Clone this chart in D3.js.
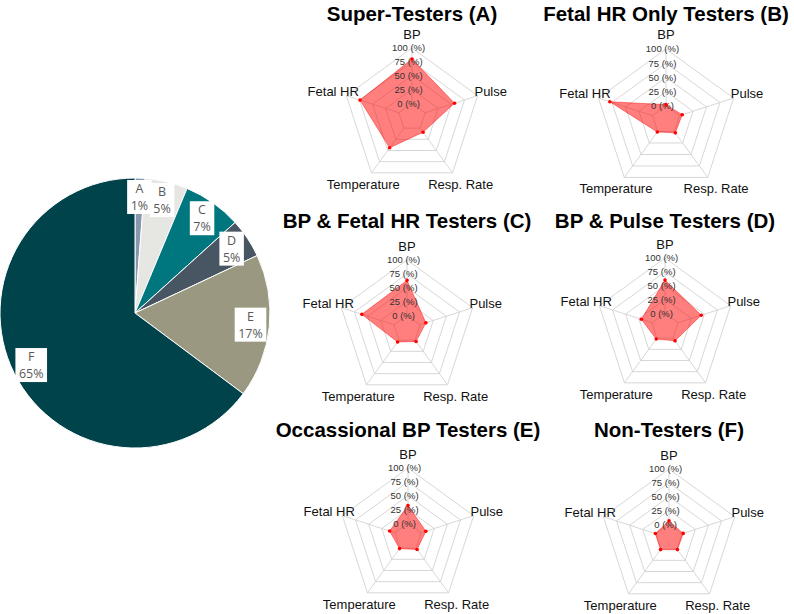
<!DOCTYPE html>
<html>
<head>
<meta charset="utf-8">
<script src="https://cdn.jsdelivr.net/npm/d3@7/dist/d3.min.js"></script>
<style>
  html, body { margin: 0; padding: 0; background: #fff; }
  svg { display: block; }
</style>
</head>
<body>
<svg id="chart" width="794" height="614"></svg>
<script>
// ---------------- DATA ----------------
const pieGroups = ["A", "B", "C", "D", "E", "F"];
const pieShares = [1.2, 5.1, 7.0, 4.7, 17.2, 64.8];
const pieColors = ["#8797AE", "#E6E6E2", "#00777F", "#485563", "#9A9880", "#00434B"];

const radarAxes = ["BP", "Fetal HR", "Temperature", "Resp. Rate", "Pulse"];
const radarTicks = [0, 25, 50, 75, 100];
const radarTickLabels = ["0 (%)", "25 (%)", "50 (%)", "75 (%)", "100 (%)"];
const radarTitles = [
  "Super-Testers (A)", "Fetal HR Only Testers (B)",
  "BP & Fetal HR Testers (C)", "BP & Pulse Testers (D)",
  "Occassional BP Testers (E)", "Non-Testers (F)"
];
// values in % in the order of radarAxes
const valuesA = [80, 74, 44, 9, 56];
const valuesB = [2, 79, 1, 3, 5];
const valuesC = [63, 61, 4, 3, 11];
const valuesD = [60, 20, 2, 6, 44];
const valuesE = [32, 10, 1, 3, 9];
const valuesF = [6, 1, 1, 1, 2];
const radarValues = [valuesA, valuesB, valuesC, valuesD, valuesE, valuesF];

// ---------------- LAYOUT ----------------
const svg = d3.select("#chart");

// Pie
const pieCx = 135, pieCy = 313, pieR = 135;
const pieG = svg.append("g").attr("transform", `translate(${pieCx},${pieCy})`);
const pie = d3.pie().sort(null).value(d => d)(pieShares);
const arc = d3.arc().innerRadius(0).outerRadius(pieR);
const labelArc = d3.arc().innerRadius(pieR * 0.86).outerRadius(pieR * 0.86);

pieG.selectAll("path.slice").data(pie).join("path")
  .attr("class", "slice")
  .attr("d", arc)
  .attr("fill", (d, i) => pieColors[i])
  .attr("stroke", "#ffffff")
  .attr("stroke-width", 1);

const lab = pieG.selectAll("g.lab").data(pie).join("g")
  .attr("class", "lab")
  .attr("transform", d => `translate(${labelArc.centroid(d)})`);
lab.append("rect").attr("fill", "#ffffff");
lab.append("text")
  .attr("text-anchor", "middle").attr("y", -8.5).attr("dy", "0.35em")
  .attr("font-family", "'Open Sans', sans-serif").attr("font-size", 12.5)
  .attr("fill", "#595959")
  .text((d, i) => pieGroups[i]);
lab.append("text")
  .attr("text-anchor", "middle").attr("y", 8.5).attr("dy", "0.35em")
  .attr("font-family", "'Open Sans', sans-serif").attr("font-size", 12.5)
  .attr("fill", "#595959")
  .text(d => Math.round(d.value) + "%");
lab.each(function () {
  const g = d3.select(this);
  const w = Math.max(...g.selectAll("text").nodes().map(n => n.getComputedTextLength())) + 7;
  g.select("rect").attr("x", -w / 2).attr("y", -17).attr("width", w).attr("height", 34);
});

// Radar panels
const panels = [
  { cx: 412, cy: 117, R: 69, ty: 20.5 },
  { cx: 666, cy: 120, R: 71, ty: 20.5 },
  { cx: 407, cy: 329, R: 69, ty: 228 },
  { cx: 665, cy: 327, R: 69, ty: 228 },
  { cx: 408, cy: 537, R: 69, ty: 437 },
  { cx: 669, cy: 538, R: 69, ty: 437 }
];

const n = radarAxes.length;
const angle = i => (90 + 360 / n * i) * Math.PI / 180; // counter-clockwise from top

panels.forEach((p, k) => {
  const g = svg.append("g").attr("transform", `translate(${p.cx},${p.cy})`);
  const r = d3.scaleLinear().domain([0, 100]).range([p.R * 0.2, p.R]);
  const pt = (v, i) => [Math.cos(angle(i)) * r(v), -Math.sin(angle(i)) * r(v)];

  svg.append("text")
    .attr("x", p.cx).attr("y", p.ty)
    .attr("text-anchor", "middle")
    .attr("font-family", "'Liberation Sans', Arial, sans-serif")
    .attr("font-weight", "bold").attr("font-size", 20.5)
    .attr("fill", "#000")
    .text(radarTitles[k]);

  const ringLine = d3.line();
  radarTicks.forEach(t => {
    const pts = radarAxes.map((a, i) => pt(t, i));
    g.append("path")
      .attr("d", ringLine(pts) + "Z")
      .attr("fill", "none").attr("stroke", "#d2d2d2").attr("stroke-width", 0.9);
  });
  radarAxes.forEach((a, i) => {
    const p0 = pt(0, i), p1 = pt(100, i);
    g.append("line")
      .attr("x1", p0[0]).attr("y1", p0[1]).attr("x2", p1[0]).attr("y2", p1[1])
      .attr("stroke", "#d2d2d2").attr("stroke-width", 0.9);
  });

  const vals = radarValues[k];
  const dpts = vals.map((v, i) => pt(v, i));
  g.append("path")
    .attr("d", d3.line()(dpts) + "Z")
    .attr("fill", "rgba(255,0,0,0.5)")
    .attr("stroke", "rgba(255,0,0,0.45)").attr("stroke-width", 1);

  radarTicks.forEach((t, j) => {
    g.append("text")
      .attr("x", -0.05 * p.R).attr("y", -r(t))
      .attr("text-anchor", "middle").attr("dy", "0.35em")
      .attr("font-family", "'Liberation Sans', Arial, sans-serif")
      .attr("font-size", 9.5).attr("fill", "#333")
      .text(radarTickLabels[j]);
  });

  g.selectAll("circle.pt").data(dpts).join("circle")
    .attr("class", "pt")
    .attr("cx", d => d[0]).attr("cy", d => d[1]).attr("r", 1.8)
    .attr("fill", "#ff0000");

  radarAxes.forEach((a, i) => {
    g.append("text")
      .attr("x", Math.cos(angle(i)) * p.R * 1.2)
      .attr("y", -Math.sin(angle(i)) * p.R * 1.2)
      .attr("text-anchor", "middle").attr("dy", "0.35em")
      .attr("font-family", "'Liberation Sans', Arial, sans-serif")
      .attr("font-size", 13).attr("fill", "#111")
      .text(a);
  });
});
</script>
</body>
</html>
